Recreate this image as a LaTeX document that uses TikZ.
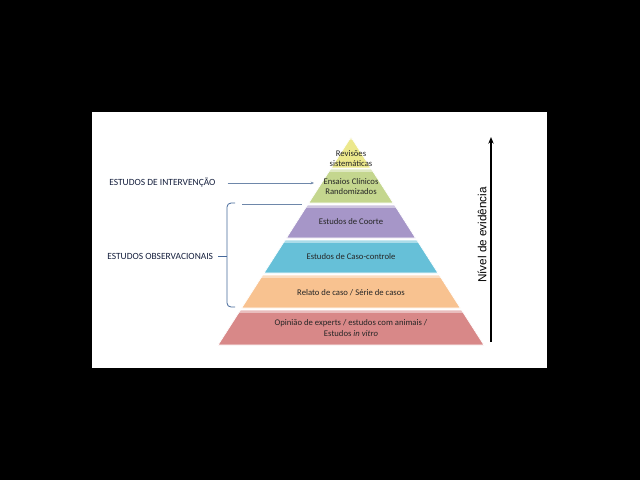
\documentclass[tikz,border=0pt]{standalone}
\usepackage{fontspec}
\usepackage{tikz}
\usepackage{xcolor}
\usetikzlibrary{arrows.meta}
\setmainfont{Carlito}
\newfontfamily\arialfont{Liberation Sans}
\definecolor{revcolor}{RGB}{236,232,140}
\definecolor{ensaiocolor}{RGB}{196,214,142}
\definecolor{coortecolor}{RGB}{166,150,200}
\definecolor{casocolor}{RGB}{102,192,216}
\definecolor{relatocolor}{RGB}{248,194,144}
\definecolor{opiniaocolor}{RGB}{216,136,136}
\definecolor{labelcolor}{RGB}{22,32,62}
\definecolor{linkcolor}{RGB}{110,135,170}
\definecolor{bracecolor}{RGB}{70,105,155}

\tikzset{
  layer/.style={draw=white, line width=0.5pt, fill=#1,
    path picture={\fill[white, opacity=0.45] (path picture bounding box.north west) rectangle ([yshift=-2.4pt]path picture bounding box.north east);}},
  layertext/.style={font=\fontsize{6.5}{6.9}\selectfont, text=black!85, align=center, inner sep=0pt},
  sidetext/.style={font=\fontsize{7.1}{8}\selectfont, text=labelcolor, inner sep=0pt},
  link/.style={draw=linkcolor, line width=0.4pt},
  bracepath/.style={draw=bracecolor, line width=0.6pt},
}

\begin{document}
\begin{tikzpicture}[x=0.75pt, y=-0.75pt]
            \useasboundingbox (0,0) rectangle (640,480);
            \fill[black] (0,0) rectangle (640,480);
            \fill[white] (92,112) rectangle (547,368);

            % piramide
            \path[layer=revcolor] (351,137) -- (370.8,168) -- (331.2,168) -- cycle;
            \path[layer=ensaiocolor] (330.6,169) -- (371.4,169) -- (393.2,203) -- (308.8,203) -- cycle;
            \path[layer=coortecolor] (307.5,205) -- (394.5,205) -- (415.5,238) -- (286.5,238) -- cycle;
            \path[layer=casocolor] (285.2,240) -- (416.8,240) -- (437.9,273) -- (264.1,273) -- cycle;
            \path[layer=relatocolor] (262.8,275) -- (439.2,275) -- (460.3,308) -- (241.7,308) -- cycle;
            \path[layer=opiniaocolor] (240.5,310) -- (461.5,310) -- (483.9,345) -- (218.1,345) -- cycle;

            \node[layertext] (rev) at (351,158.5) {Revisões\\sistemáticas};
            \node[layertext, font=\fontsize{6.5}{7.5}\selectfont] (ensaios) at (351,187) {Ensaios Clínicos\\Randomizados};
            \node[layertext] (coorte) at (351,222) {Estudos de Coorte};
            \node[layertext] (caso) at (351,257) {Estudos de Caso-controle};
            \node[layertext] (relato) at (351,293) {Relato de caso / Série de casos};
            \node[layertext, font=\fontsize{6.5}{8.25}\selectfont] (opiniao) at (351,328.5) {Opinião de experts / estudos com animais /\\Estudos \textit{in vitro}};

            % rotulos da esquerda
            \node[sidetext, anchor=west] (intv) at (109,183) {ESTUDOS DE INTERVENÇÃO};
            \node[sidetext, anchor=west] (obs) at (107,256) {ESTUDOS OBSERVACIONAIS};
            \coordinate (intvtip) at (314,183);
            \coordinate (bracebot) at (235,307);
            \coordinate (bracetop) at (235,203);
            \coordinate (bracetip) at (227,256);
            \coordinate (obstop) at (242,204);
            \coordinate (coortetop) at (302,204);

            \draw[link, -{Stealth[length=2.5pt,width=2pt]}, shorten <=9pt] (intv.east) -- (intvtip);
            \draw[link] (obstop) -- (coortetop);
            \draw[bracepath, rounded corners=3pt] (bracetop) -- (227,203) -- (227,307) -- (bracebot);
            \draw[bracepath, shorten <=3.5pt] (obs.east) -- (bracetip);

            % nivel de evidencia
            \coordinate (evlow) at (491,342);
            \coordinate (evhigh) at (491,137);
            \draw[black, line width=0.9pt, -{Stealth[length=5pt,width=4pt]}] (evlow) -- (evhigh);
            \node[rotate=90, font=\arialfont\fontsize{8.8}{10}\selectfont, inner sep=0pt] (nivel) at (482,235) {Nível de evidência};
        \end{tikzpicture}
\end{document}
